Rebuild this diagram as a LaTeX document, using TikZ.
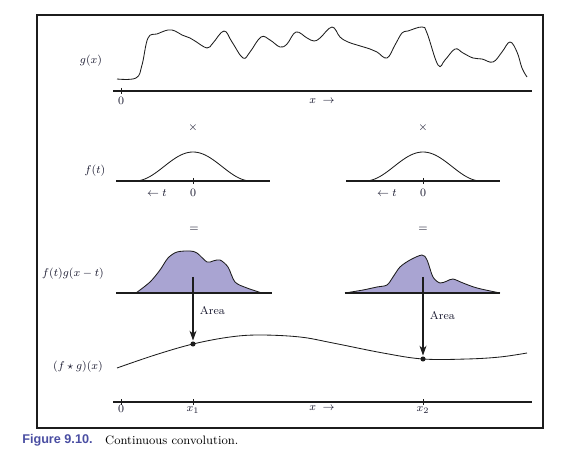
\documentclass[tikz,border=0pt]{standalone}
\usepackage{fontspec}
\usepackage{amsmath,amssymb}
\newfontfamily\captionsans{Liberation Sans}
\usetikzlibrary{arrows.meta,calc,positioning}
\definecolor{cvInk}{HTML}{1C1C1C}
\definecolor{cvText}{HTML}{1A1A30}
\definecolor{cvFill}{HTML}{A9A4D2}
\definecolor{cvCaption}{HTML}{4A4EA2}
\tikzset{
  every node/.style={font=\footnotesize, text=cvText},
  frameBox/.style={draw=cvInk, line width=1.5pt},
  axisLine/.style={draw=cvInk, line width=0.85pt},
  tickMark/.style={draw=cvInk, line width=0.6pt},
  signal/.style={draw=cvInk, line width=0.6pt},
  productArea/.style={draw=cvInk, fill=cvFill, line width=0.6pt},
  areaArrow/.style={-{Stealth[length=7pt,width=5pt]}, line width=0.8pt,
    color=cvInk, shorten >=0.5pt},
  sampleDot/.style={circle, fill=cvInk, inner sep=0pt, minimum size=3.6pt},
  tickText/.style={inner sep=1pt},
}
\newcommand{\kernelpanel}[2]{%
  \draw[signal] plot[domain=-58:58, samples=49]
    ({#2+\x},{181-14.5*(1+cos(\x*180/58))});
  \draw[axisLine] (#2-77,181) -- (#2+77,181);
  \draw[tickMark] (#2,178) -- (#2,184);
  \node[tickText] (#1zero) at (#2,193) {0};
  \node[tickText] (#1dir) at (#2-36,193) {$\leftarrow t$};
  \node (#1times) at (#2,128) {$\times$};
}

\begin{document}
\begin{tikzpicture}[x=0.025cm,y=-0.025cm]
  \useasboundingbox (0,0) rectangle (566,458);
  \draw[frameBox] (37,15) rectangle (543,428);

  % Input signal g(x) on its own axis.
  \node (glabel) at (91,61) {$g(x)$};
  \draw[signal] plot[smooth, tension=0.65] coordinates {
    (117,79) (136,78) (142,65) (148,38) (157,34) (168,30) (175,31)
    (182,35) (190,38) (195,41) (207,48) (213,43) (224,31) (232,42)
    (243,58) (250,52) (261,37) (270,40) (280,47) (287,44) (296,32)
    (307,38) (314,41) (320,38) (332,27) (340,37) (348,42) (357,45)
    (370,49) (377,52) (387,58) (395,45) (402,33) (408,31) (422,27)
    (427,33) (438,65) (445,60) (455,49) (463,53) (473,58) (482,59)
    (493,62) (502,52) (510,42) (517,52) (522,68) (527,77)};
  \draw[axisLine] (113,91) -- (532,91);
  \draw[tickMark] (121,88) -- (121,94);
  \node[tickText] (gzero) at (121,101) {0};
  \node[tickText] (gdir) at (322,101) {$x\;\rightarrow$};

  % Kernel f(t) at two shifts.
  \node (flabel) at (95,171) {$f(t)$};
  \kernelpanel{kA}{193}
  \kernelpanel{kB}{423}

  % Products f(t)g(x-t), shaded.
  \node (plabel) at (73,274) {$f(t)g(x-t)$};
  \node (eqA) at (194,229) {$=$};
  \node (eqB) at (423,229) {$=$};
  \draw[productArea] plot[smooth, tension=0.5] coordinates {
    (136,293) (150,282) (160,270) (168,258) (177,252) (190,251)
    (197,253) (207,262) (213,261) (220,260) (228,267) (235,282)
    (247,288) (262,293)};
  \draw[productArea] plot[smooth, tension=0.5] coordinates {
    (345,293) (363,290) (377,287) (387,285) (393,277) (400,267)
    (410,260) (422,255) (427,260) (433,277) (440,283) (447,281)
    (453,279) (463,283) (477,288) (500,293)};
  \draw[axisLine] (116,293) -- (272,293);
  \draw[axisLine] (345,293) -- (500,293);

  % Result (f*g)(x) with the two sampled points.
  \node (clabel) at (78,367) {$(f\star g)(x)$};
  \draw[signal] plot[smooth, tension=0.6] coordinates {
    (117,368) (155,355) (193,344) (230,337) (260,335) (300,337)
    (333,343) (383,353) (423,359) (467,359) (500,357) (527,353)};
  \node[sampleDot] (dotA) at (193,344) {};
  \node[sampleDot] (dotB) at (423,359) {};
  \coordinate (areaTopA) at (193,277);
  \coordinate (areaTopB) at (423,277);
  \draw[areaArrow] (areaTopA) -- (dotA);
  \draw[areaArrow] (areaTopB) -- (dotB);
  \node[anchor=west] (areaA) at (195,311) {Area};
  \node[anchor=west] (areaB) at (425,316) {Area};

  \draw[axisLine] (113,402) -- (532,402);
  \foreach \t in {121,193,423} {
    \draw[tickMark] (\t,399) -- (\t,405);
  }
  \node[tickText] (rzero) at (121,409) {0};
  \node[tickText] (rxa) at (193,410) {$x_1$};
  \node[tickText] (rxb) at (423,410) {$x_2$};
  \node[tickText] (rdir) at (322,408) {$x\;\rightarrow$};

  % Caption below the frame.
  \node[anchor=west, inner sep=0pt, text=cvCaption,
    font=\captionsans\bfseries\fontsize{9}{11}\selectfont]
    (capnum) at (22,440) {Figure 9.10.};
  \node[anchor=west, inner sep=0pt, text=black,
    font=\fontsize{8.7}{11}\selectfont, right=0.3cm of capnum]
    (captext) {Continuous convolution.};
\end{tikzpicture}
\end{document}
